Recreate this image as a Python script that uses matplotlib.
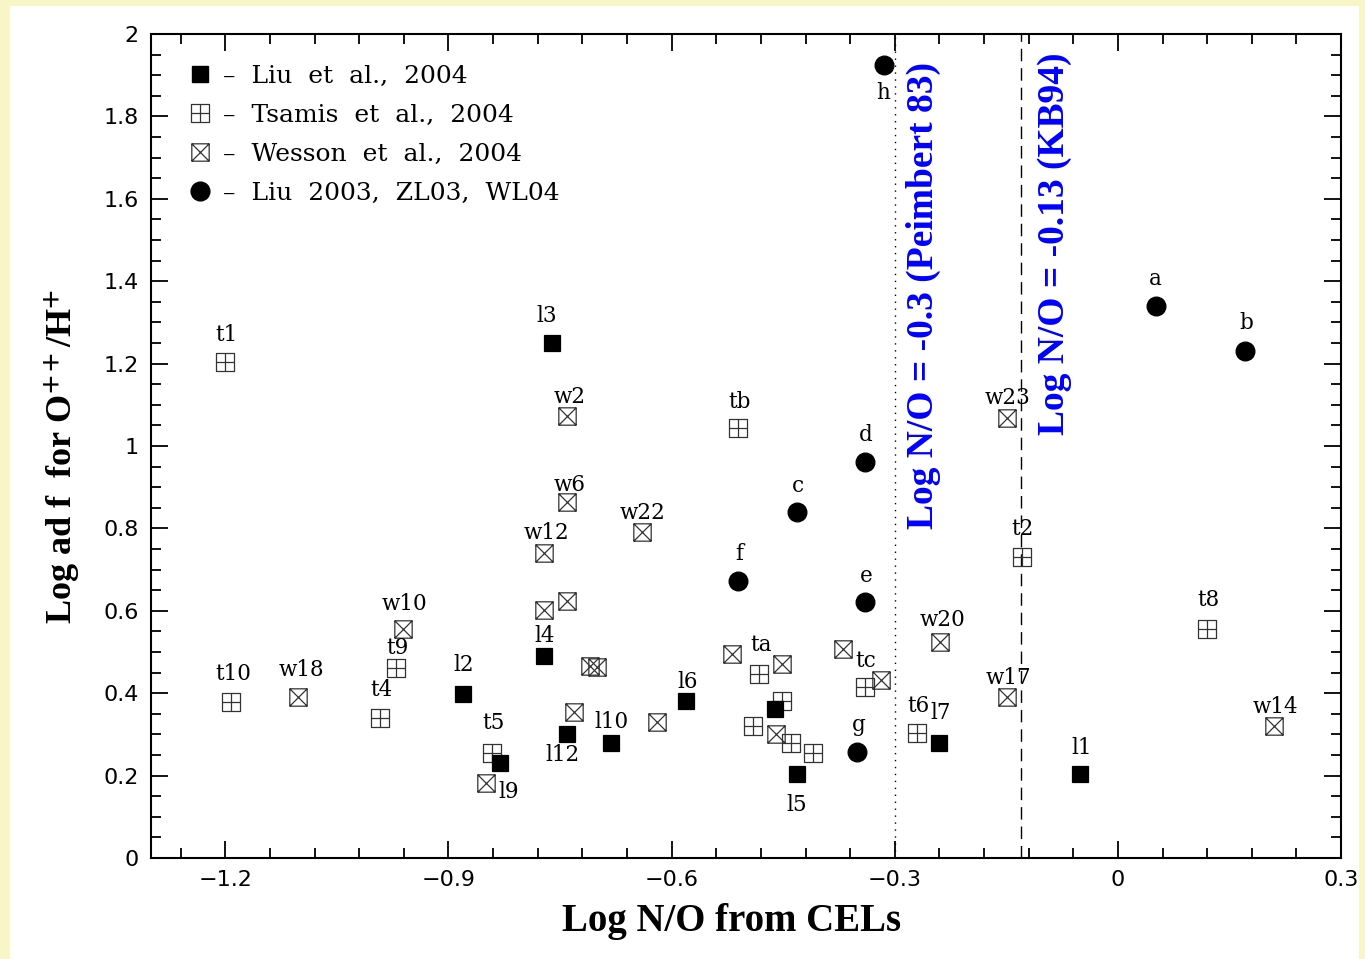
import numpy as np
import matplotlib.pyplot as plt
from matplotlib.path import Path
from matplotlib.lines import Line2D
from matplotlib.patches import Rectangle

# data: Log N/O (x), Log adf (y), labels
liu_x = [-0.761, -0.771, -0.881, -0.831, -0.741, -0.681, -0.581, -0.461, -0.432, -0.241, -0.051]
liu_y = [1.251, 0.491, 0.399, 0.231, 0.301, 0.279, 0.382, 0.362, 0.204, 0.279, 0.204]
liu_lab = ['l3', 'l4', 'l2', 'l9', 'l12', 'l10', 'l6', '', 'l5', 'l7', 'l1']

tsa_x = [-1.201, -1.192, -0.992, -0.970, -0.841, -0.511, -0.482, -0.451, -0.490, -0.440, -0.410, -0.340, -0.270, -0.129, 0.120]
tsa_y = [1.203, 0.379, 0.340, 0.462, 0.255, 1.043, 0.447, 0.382, 0.321, 0.279, 0.255, 0.416, 0.304, 0.731, 0.556]
tsa_lab = ['t1', 't10', 't4', 't9', 't5', 'tb', 'ta', '', '', '', '', 'tc', 't6', 't2', 't8']

wes_x = [-1.102, -0.961, -0.741, -0.741, -0.771, -0.640, -0.771, -0.740, -0.710, -0.700, -0.731,
         -0.850, -0.620, -0.519, -0.451, -0.460, -0.370, -0.319, -0.239, -0.149, -0.149, 0.210]
wes_y = [0.391, 0.556, 1.072, 0.865, 0.741, 0.792, 0.603, 0.625, 0.467, 0.464, 0.355,
         0.182, 0.330, 0.496, 0.472, 0.301, 0.508, 0.433, 0.525, 0.391, 1.069, 0.321]
wes_lab = ['w18', 'w10', 'w2', 'w6', 'w12', 'w22', '', '', '', '', '',
           '', '', '', '', '', '', '', 'w20', 'w17', 'w23', 'w14']

cir_x = [-0.315, -0.340, -0.431, -0.511, -0.340, -0.351, 0.051, 0.171]
cir_y = [1.925, 0.960, 0.841, 0.673, 0.622, 0.258, 1.339, 1.230]
cir_lab = ['h', 'd', 'c', 'f', 'e', 'g', 'a', 'b']

# label offsets in pixels (dx right, dy up)
off = {'l3': (-5, 27), 'l4': (0, 20), 'l2': (1, 29), 'l9': (9, -29), 'l12': (-4, -21),
       'l10': (0, 21), 'l6': (2, 19), 'l5': (0, -31), 'l7': (2, 30), 'l1': (2, 26),
       't1': (2, 27), 't10': (2, 28), 't4': (1, 28), 't9': (1, 20), 't5': (1, 30),
       'tb': (2, 26), 'ta': (2, 29), 'tc': (1, 26), 't6': (1, 27), 't2': (1, 28), 't8': (1, 29),
       'w18': (3, 27), 'w10': (1, 25), 'w2': (3, 19), 'w6': (3, 17), 'w12': (2, 20),
       'w22': (1, 19), 'w20': (2, 22), 'w17': (1, 19), 'w23': (1, 20), 'w14': (1, 19),
       'h': (0, -28), 'd': (1, 27), 'c': (1, 26), 'f': (1, 27), 'e': (1, 26), 'g': (2, 27),
       'a': (0, 27), 'b': (1, 28)}

# boxed plus / boxed cross markers
M, L, C = Path.MOVETO, Path.LINETO, Path.CLOSEPOLY
box_plus = Path([(-1, -1), (1, -1), (1, 1), (-1, 1), (-1, -1), (0, -1), (0, 1), (-1, 0), (1, 0)],
                [M, L, L, L, C, M, L, M, L])
box_x = Path([(-1, -1), (1, -1), (1, 1), (-1, 1), (-1, -1), (-1, -1), (1, 1), (-1, 1), (1, -1)],
             [M, L, L, L, C, M, L, M, L])

plt.rcParams['mathtext.fontset'] = 'stix'

fig = plt.figure(figsize=(13.65, 9.59), dpi=100, facecolor='#f8f6c6')
fig.patches.append(Rectangle((10 / 1365, 0), 1349 / 1365, 953 / 959, transform=fig.transFigure,
                             facecolor='white', edgecolor='none', zorder=-1))
ax = fig.add_axes([151 / 1365, 101 / 959, 1190 / 1365, 824 / 959])

ax.axvline(-0.3, color='black', lw=1, ls=(0, (1, 4)))
ax.axvline(-0.13, color='black', lw=1, ls=(0, (9, 5)))

mk = dict(ls='none', markeredgewidth=0.9)
ax.plot(tsa_x, tsa_y, marker=box_plus, ms=12.5, mfc='none', mec='#333333', **mk)
ax.plot(wes_x, wes_y, marker=box_x, ms=12.5, mfc='none', mec='#333333', **mk)
ax.plot(liu_x, liu_y, marker='s', ms=12, color='black', **mk)
ax.plot(cir_x, cir_y, marker='o', ms=13.5, color='black', **mk)

for xs, ys, labs in [(liu_x, liu_y, liu_lab), (tsa_x, tsa_y, tsa_lab),
                     (wes_x, wes_y, wes_lab), (cir_x, cir_y, cir_lab)]:
    for x, y, s in zip(xs, ys, labs):
        if s:
            ax.annotate(s, (x, y), xytext=off[s], textcoords='offset pixels',
                        ha='center', va='center', fontsize=15.5, family='DejaVu Serif')

handles = [Line2D([], [], marker='s', ms=12, color='black', ls='none'),
           Line2D([], [], marker=box_plus, ms=12.5, mfc='none', mec='#333333', mew=0.9, ls='none'),
           Line2D([], [], marker=box_x, ms=12.5, mfc='none', mec='#333333', mew=0.9, ls='none'),
           Line2D([], [], marker='o', ms=13.5, color='black', ls='none')]
labels = ['–  Liu  et  al.,  2004', '–  Tsamis  et  al.,  2004',
          '–  Wesson  et  al.,  2004', '–  Liu  2003,  ZL03,  WL04']
ax.legend(handles, labels, loc='upper left', bbox_to_anchor=(0.0307, 0.9627), frameon=False,
          borderpad=0, borderaxespad=0, handlelength=1.0, handletextpad=0.4, labelspacing=0.64,
          prop={'family': 'DejaVu Serif', 'size': 18})

ax.text(-0.261, 1.366, 'Log N/O = -0.3 (Peimbert 83)', rotation=90, ha='center', va='center',
        color='#0000ff', fontsize=27, fontweight='bold', family='Liberation Serif')
ax.text(-0.085, 1.49, 'Log N/O = -0.13 (KB94)', rotation=90, ha='center', va='center',
        color='#0000ff', fontsize=27, fontweight='bold', family='Liberation Serif')

ax.set_xlim(-1.3, 0.3)
ax.set_ylim(0, 2)
ax.set_xticks([-1.2, -0.9, -0.6, -0.3, 0, 0.3])
ax.set_xticklabels(['−1.2', '−0.9', '−0.6', '−0.3', '0', '0.3'])
ax.set_xticks(np.arange(-1.26, 0.31, 0.06), minor=True)
ax.set_yticks(np.arange(0, 2.01, 0.2))
ax.set_yticklabels(['0', '0.2', '0.4', '0.6', '0.8', '1', '1.2', '1.4', '1.6', '1.8', '2'])
ax.set_yticks(np.arange(0, 2.01, 0.05), minor=True)
ax.tick_params(which='both', direction='in', top=True, right=True, width=1.3, labelsize=16)
ax.tick_params(which='major', length=12, pad=9)
ax.tick_params(which='minor', length=7)
for sp in ax.spines.values():
    sp.set_linewidth(1.5)

ax.set_xlabel('Log N/O from CELs', fontsize=28, fontweight='bold', family='Liberation Serif')
ax.xaxis.set_label_coords(0.488, -0.055)
fig.text(62 / 1365, 1 - 456 / 959, r'Log ad f  for O$^{\mathbf{++}}$/H$^{\mathbf{+}}$', rotation=90,
         ha='center', va='center', fontsize=26, fontweight='bold', family='Liberation Serif')

plt.savefig('out.png', dpi=100, facecolor=fig.get_facecolor())
